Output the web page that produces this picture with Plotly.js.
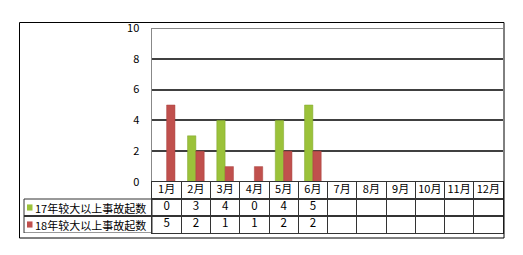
<!DOCTYPE html>
<html>
<head>
<meta charset="utf-8">
<script src="https://cdn.plot.ly/plotly-3.0.1.min.js"></script>
<style>html,body{margin:0;padding:0;background:#fff;}#chart{width:523px;height:255px;}</style>
</head>
<body>
<div id="chart"></div>
<script>
var months = ['1月','2月','3月','4月','5月','6月','7月','8月','9月','10月','11月','12月'];
var s17Name = '17年较大以上事故起数';
var s18Name = '18年较大以上事故起数';
var s17 = [0, 3, 4, 0, 4, 5, null, null, null, null, null, null];
var s18 = [5, 2, 1, 1, 2, 2, null, null, null, null, null, null];

var green = '#9bc23a';
var red = '#c0504d';
var FONT = '"Noto Sans CJK SC", "DejaVu Sans", sans-serif';

function txt(arr){ return arr.map(function(v){ return v === null ? '' : String(v); }); }

var W = 523, H = 255, ml = 20, mr = 20, mt = 28, mb = 22;
var pw = W - ml - mr, ph = H - mt - mb;
function px(x){ return (x - ml) / pw; }
function py(y){ return (H - mb - y) / ph; }

var xdom = [px(152), 1];
var ysplit = py(182);

var traces = [
  {type:'bar', x: months, y: s17, name: s17Name, marker:{color: green, line:{color:'#7fa52a', width:0.5}}, xaxis:'x', yaxis:'y', hoverinfo:'skip'},
  {type:'bar', x: months, y: s18, name: s18Name, marker:{color: red, line:{color:'#a8403d', width:0.5}}, xaxis:'x', yaxis:'y', hoverinfo:'skip'},
  {type:'scatter', mode:'text', x: months, y: months.map(function(){return 2.5;}), text: months,
   textfont:{family: FONT, size: 11, color:'#000'}, xaxis:'x2', yaxis:'y2', hoverinfo:'skip'},
  {type:'scatter', mode:'text', x: months, y: months.map(function(){return 1.5;}), text: txt(s17),
   textfont:{family: FONT, size: 11.5, color:'#000'}, xaxis:'x2', yaxis:'y2', hoverinfo:'skip'},
  {type:'scatter', mode:'text', x: months, y: months.map(function(){return 0.5;}), text: txt(s18),
   textfont:{family: FONT, size: 11.5, color:'#000'}, xaxis:'x2', yaxis:'y2', hoverinfo:'skip'}
];

var layout = {
  width: W, height: H,
  margin: {l: ml, r: mr, t: mt, b: mb, pad: 0},
  paper_bgcolor: '#fff', plot_bgcolor: '#fff',
  showlegend: false,
  barmode: 'group', bargap: 0.43, bargroupgap: 0,
  font: {family: FONT, size: 11, color: '#000'},
  xaxis: {domain: xdom, type:'category', categoryarray: months, range:[-0.5, 11.5],
          showgrid:false, showticklabels:false, ticks:'', showline:false, zeroline:false, anchor:'y', fixedrange:true},
  yaxis: {domain: [ysplit, 1], range:[0,10], dtick:2, tick0:0, showgrid:true, gridcolor:'#404040', gridwidth:2,
          zeroline:false, showline:true, linecolor:'#888', linewidth:1.5, ticks:'', ticklabelstandoff: 9,
          tickfont:{family: FONT, size: 11, color:'#000'}, anchor:'x', fixedrange:true},
  xaxis2: {domain: xdom, type:'category', matches:'x', anchor:'y2', tickson:'boundaries', showgrid:true,
           gridcolor:'#333', gridwidth:1, showticklabels:false, ticks:'', showline:true, mirror:true,
           linecolor:'#333', linewidth:1, zeroline:false},
  yaxis2: {domain: [0, ysplit], range:[0,3], dtick:1, tick0:0, showgrid:true, gridcolor:'#333', gridwidth:2,
           showticklabels:false, ticks:'', showline:true, mirror:true, linecolor:'#333', linewidth:1, zeroline:false, anchor:'x2'},
  shapes: [
    {type:'rect', xref:'paper', yref:'y2', x0: px(24), x1: xdom[0], y0: 0, y1: 2, line:{color:'#333', width:1}},
    {type:'line', xref:'paper', yref:'y2', x0: px(24), x1: xdom[0], y0: 1, y1: 1, line:{color:'#333', width:2}},
    {type:'rect', xref:'paper', yref:'y2', x0: px(27), x1: px(32.5), y0: 1.32, y1: 1.68, fillcolor: green, line:{width:0}},
    {type:'rect', xref:'paper', yref:'y2', x0: px(27), x1: px(32.5), y0: 0.32, y1: 0.68, fillcolor: red, line:{width:0}},
    {type:'line', xref:'paper', yref:'y', x0: xdom[0], x1: 1, y0: 10, y1: 10, line:{color:'#888', width:2}},
    {type:'rect', xref:'paper', yref:'paper', x0: px(19.5), x1: px(504), y0: py(238), y1: py(22.5), line:{color:'#000', width:1}}
  ],
  annotations: [
    {xref:'paper', yref:'y2', x: px(33), y: 1.5, xanchor:'left', yanchor:'middle', showarrow:false,
     text: s17Name, font:{family: FONT, size: 11, color:'#000'}},
    {xref:'paper', yref:'y2', x: px(33), y: 0.5, xanchor:'left', yanchor:'middle', showarrow:false,
     text: s18Name, font:{family: FONT, size: 11, color:'#000'}}
  ]
};

Plotly.newPlot('chart', traces, layout, {staticPlot: true, displayModeBar: false});
</script>
</body>
</html>
